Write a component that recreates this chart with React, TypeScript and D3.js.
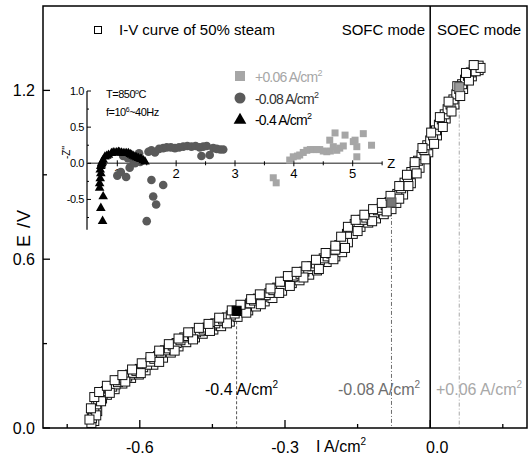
import React from "react";
import * as d3 from "d3";

// ---- main I-V curve (I in A/cm2, E in V) ----
const ivCurve: [number, number][] = [
  [-0.700,0.018],[-0.699,0.035],[-0.697,0.052],[-0.694,0.068],[-0.690,0.084],[-0.686,0.100],[-0.681,0.112],[-0.676,0.122],
  [-0.670,0.131],[-0.664,0.140],[-0.657,0.147],[-0.650,0.155],[-0.645,0.163],[-0.640,0.170],[-0.633,0.176],[-0.626,0.183],
  [-0.620,0.190],[-0.614,0.196],[-0.607,0.203],[-0.600,0.210],[-0.593,0.216],[-0.585,0.225],[-0.578,0.236],[-0.570,0.246],
  [-0.562,0.256],[-0.556,0.268],[-0.548,0.276],[-0.540,0.283],[-0.532,0.293],[-0.524,0.302],[-0.516,0.312],[-0.508,0.322],
  [-0.500,0.327],[-0.492,0.333],[-0.484,0.340],[-0.476,0.344],[-0.468,0.350],[-0.460,0.357],[-0.452,0.364],[-0.444,0.372],
  [-0.436,0.380],[-0.428,0.386],[-0.420,0.393],[-0.412,0.400],[-0.404,0.407],[-0.396,0.416],[-0.388,0.424],[-0.380,0.432],
  [-0.372,0.443],[-0.364,0.453],[-0.356,0.460],[-0.348,0.465],[-0.340,0.472],[-0.332,0.480],[-0.324,0.490],[-0.316,0.499],
  [-0.308,0.510],[-0.300,0.520],[-0.292,0.528],[-0.284,0.536],[-0.276,0.542],[-0.268,0.548],[-0.260,0.556],[-0.252,0.565],
  [-0.244,0.575],[-0.236,0.585],[-0.228,0.595],[-0.220,0.603],[-0.212,0.610],[-0.204,0.620],[-0.196,0.634],[-0.188,0.650],
  [-0.180,0.665],[-0.172,0.690],[-0.164,0.712],[-0.156,0.725],[-0.148,0.732],[-0.140,0.740],[-0.132,0.748],[-0.124,0.756],
  [-0.116,0.765],[-0.108,0.774],[-0.100,0.783],[-0.092,0.792],[-0.084,0.803],[-0.076,0.815],[-0.068,0.832],[-0.060,0.852],
  [-0.053,0.872],[-0.046,0.892],[-0.039,0.910],[-0.032,0.930],[-0.025,0.950],[-0.018,0.970],[-0.012,0.988],[-0.006,1.005],
  [0.000,1.022],[0.006,1.040],[0.012,1.058],[0.018,1.078],[0.024,1.097],[0.030,1.115],[0.036,1.133],[0.042,1.150],
  [0.048,1.168],[0.054,1.186],[0.060,1.205],[0.066,1.222],[0.072,1.238],[0.078,1.252],[0.084,1.264],[0.090,1.274],
  [0.096,1.282],[0.100,1.288],
  [-0.690,0.045],[-0.680,0.095],[-0.662,0.125],[-0.630,0.165],[-0.598,0.195],[-0.560,0.235],[-0.528,0.275],[-0.490,0.315],
  [-0.455,0.345],[-0.420,0.372],[-0.380,0.410],[-0.350,0.440],[-0.312,0.480],[-0.290,0.505],[-0.262,0.535],[-0.230,0.565],
  [-0.200,0.600],[-0.176,0.640],[-0.150,0.700],[-0.120,0.735],[-0.090,0.770],[-0.064,0.815],[-0.045,0.860],[-0.028,0.905],
  [-0.010,0.955],[0.008,1.010],[0.026,1.070],[0.044,1.125],[0.062,1.180],[0.080,1.235],[0.094,1.268],[0.104,1.280],
];
// lower-right edge of the scattered band
const ivLower: [number, number][] = [
  [-0.694,0.025],[-0.688,0.060],[-0.678,0.105],[-0.668,0.118],[-0.652,0.138],[-0.636,0.158],[-0.618,0.178],[-0.602,0.190],
  [-0.588,0.205],[-0.572,0.225],[-0.552,0.250],[-0.536,0.268],[-0.520,0.290],[-0.504,0.305],[-0.486,0.322],[-0.470,0.335],
  [-0.448,0.350],[-0.432,0.362],[-0.414,0.378],[-0.398,0.395],[-0.376,0.418],[-0.360,0.432],[-0.342,0.450],[-0.326,0.462],
  [-0.306,0.488],[-0.286,0.515],[-0.270,0.525],[-0.250,0.545],[-0.234,0.560],[-0.214,0.590],[-0.196,0.610],[-0.182,0.625],
  [-0.170,0.660],[-0.160,0.690],[-0.144,0.715],[-0.128,0.730],[-0.112,0.745],[-0.096,0.760],[-0.080,0.778],[-0.070,0.800],
  [-0.056,0.830],[-0.040,0.870],[-0.022,0.925],[-0.004,0.980],[0.014,1.040],[0.032,1.100],[0.050,1.150],[0.068,1.205],
  [0.086,1.250],[0.100,1.272],
];
// upper-left edge of the scattered band
const ivUpper: [number, number][] = [
  [-0.704,0.030],[-0.701,0.070],[-0.694,0.110],[-0.684,0.128],[-0.668,0.150],[-0.652,0.170],[-0.636,0.188],[-0.616,0.208],
  [-0.596,0.230],[-0.578,0.252],[-0.560,0.275],[-0.540,0.298],[-0.520,0.318],[-0.500,0.340],[-0.478,0.356],[-0.458,0.370],
  [-0.436,0.392],[-0.410,0.418],[-0.392,0.438],[-0.370,0.458],[-0.352,0.475],[-0.330,0.496],[-0.310,0.520],[-0.294,0.540],
  [-0.276,0.555],[-0.256,0.575],[-0.236,0.598],[-0.216,0.622],[-0.196,0.648],[-0.184,0.680],[-0.170,0.715],[-0.154,0.740],
  [-0.136,0.758],[-0.118,0.778],[-0.100,0.800],[-0.082,0.825],[-0.064,0.860],[-0.048,0.900],[-0.032,0.945],[-0.016,0.995],
  [0.002,1.050],[0.020,1.105],[0.038,1.160],[0.056,1.215],[0.074,1.262],[0.090,1.290],
];

// operating points where impedance was measured
const opCurrents = [-0.4, -0.08, 0.06];
const opVoltages = [0.415, 0.8, 1.21];
const opLabels = ["-0.4", "-0.08", "+0.06"];
const opColors = ["#000000", "#6e6e6e", "#a8a8a8"];

const xTicksMajor = [-0.6, -0.3, 0.0];
const xTicksMinor = [-0.75, -0.45, -0.15, 0.15];
const yTicksMajor = [0.0, 0.6, 1.2];
const yTicksMinor = [0.3, 0.9];

// ---- inset impedance spectra (Z', -Z'') ----
const triData: [number, number][] = [
  [0.75,-0.80],[0.72,-0.62],[0.76,-0.46],[0.70,-0.34],[0.70,-0.28],[0.71,-0.21],[0.72,-0.14],[0.71,-0.09],[0.72,-0.04],
  [0.735,0.0],[0.76,0.045],[0.79,0.09],[0.85,0.115],[0.90,0.138],[0.96,0.146],[1.02,0.156],[1.07,0.146],[1.13,0.138],
  [1.19,0.138],[1.245,0.115],[1.30,0.09],[1.36,0.069],[1.41,0.055],[1.47,0.023],[0.73,-0.02],[0.745,0.02],[0.82,0.1],
  [0.93,0.15],[0.99,0.15],[1.04,0.15],[1.10,0.14],[1.16,0.14],[1.22,0.125],[1.27,0.1],[1.33,0.08],[1.39,0.06],[1.44,0.04],
];
const circData: [number, number][] = [
  [1.00,-0.17],[1.06,-0.12],[1.15,-0.19],[1.21,-0.06],[1.27,0.04],[1.30,0.0],[1.33,0.07],[1.37,0.14],[1.39,0.02],
  [1.50,-0.80],[1.58,-0.23],[1.61,-0.46],[1.66,-0.57],[1.78,-0.30],[1.53,0.16],[1.58,0.18],[1.64,0.15],[1.71,0.20],
  [1.78,0.21],[1.84,0.22],[1.91,0.22],[1.98,0.21],[2.05,0.22],[2.12,0.23],[2.19,0.24],[2.26,0.23],[2.33,0.24],[2.40,0.22],
  [2.46,0.23],[2.52,0.24],[2.43,0.10],[2.57,0.115],[2.63,0.21],[2.69,0.20],[2.75,0.19],[2.80,0.19],[1.10,0.10],[1.18,0.07],
];
const sqData: [number, number][] = [
  [3.65,-0.20],[3.70,-0.27],[3.93,0.045],[3.99,0.09],[4.06,0.10],[4.10,0.115],[4.16,0.15],[4.22,0.18],[4.28,0.19],
  [4.33,0.19],[4.39,0.19],[4.44,0.19],[4.50,0.17],[4.56,0.16],[4.61,0.32],[4.62,0.17],[4.67,0.23],[4.70,0.42],[4.73,0.18],
  [4.78,0.21],[4.84,0.24],[4.87,0.39],[5.01,0.30],[5.04,0.32],[5.07,0.23],[5.07,0.09],[5.18,0.41],[5.32,0.25],
];
const insetXTicks = [1, 2, 3, 4, 5];
const insetXMinor = [1.5, 2.5, 3.5, 4.5, 5.5];
const insetYTicks = [1.0, 0.5, 0.0, -0.5];
const insetYMinor = [0.75, 0.25, -0.25, -0.75];
const insetLegend = ["+0.06 A/cm", "-0.08 A/cm", "-0.4 A/cm"];

const FONT = "'Liberation Sans', Arial, Helvetica, sans-serif";

export default function App() {
  const W = 528, H = 459;
  const x = d3.scaleLinear().domain([-0.8, 0.2]).range([43, 527]);
  const y = d3.scaleLinear().domain([0, 1.5]).range([428, 6]);

  const ix = d3.scaleLinear().domain([1, 5]).range([117.3, 352.7]);
  const iy = d3.scaleLinear().domain([0, 1]).range([163.3, 91]);
  const insetLeft = 87;
  const insetRight = ix(5.5);
  const triPath = d3.symbol().type(d3.symbolTriangle).size(40)() as string;
  const triLegend = d3.symbol().type(d3.symbolTriangle).size(70)() as string;
  const allIV = [...ivLower, ...ivCurve, ...ivUpper];

  return (
    <svg width={W} height={H} style={{ position: "absolute", left: 0, top: 0, background: "#fff" }} fontFamily={FONT}>
      <rect x={0} y={0} width={W} height={H} fill="#fff" />
      {/* dashed drop lines */}
      {opCurrents.map((c, i) => (
        <line key={"dl" + i} x1={x(c)} x2={x(c)} y1={y(opVoltages[i])} y2={y(0)}
          stroke={i === 0 ? "#555" : opColors[i]} strokeWidth={1}
          strokeDasharray={i === 0 ? "3,2" : "4,2,1,2"} />
      ))}
      {/* mode divider */}
      <line x1={x(0)} x2={x(0)} y1={y(1.5)} y2={y(0)} stroke="#000" strokeWidth={1.5} />

      {/* main markers */}
      {allIV.map((d, i) => (
        <rect key={"s" + i} x={x(d[0]) - 4.5} y={y(d[1]) - 4.5} width={9} height={9}
          fill="#fff" stroke="#111" strokeWidth={1} />
      ))}
      {opCurrents.map((c, i) => (
        <rect key={"op" + i} x={x(c) - 4.5} y={y(opVoltages[i]) - 5} width={9} height={9}
          fill={i === 0 ? "#000" : i === 1 ? "#777" : "#9a9a9a"} stroke={i === 0 ? "#000" : "#555"} strokeWidth={1} />
      ))}

      {/* frame */}
      <rect x={43} y={6} width={484} height={422} fill="none" stroke="#000" strokeWidth={1.5} />
      {/* x ticks */}
      {xTicksMajor.map((t) => (
        <line key={"xt" + t} x1={x(t)} x2={x(t)} y1={y(0)} y2={y(0) - 8} stroke="#000" strokeWidth={1.3} />
      ))}
      {xTicksMinor.map((t) => (
        <line key={"xm" + t} x1={x(t)} x2={x(t)} y1={y(0)} y2={y(0) - 4} stroke="#000" strokeWidth={1.3} />
      ))}
      {xTicksMajor.map((t) => (
        <text key={"xl" + t} x={x(t) + (t === 0 ? 7 : 0)} y={453} fontSize={16} textAnchor="middle">
          {t.toFixed(1)}
        </text>
      ))}
      {yTicksMajor.map((t) => (
        <line key={"yt" + t} x1={43} x2={50} y1={y(t)} y2={y(t)} stroke="#000" strokeWidth={1.3} />
      ))}
      {yTicksMinor.map((t) => (
        <line key={"ym" + t} x1={43} x2={47} y1={y(t)} y2={y(t)} stroke="#000" strokeWidth={1.3} />
      ))}
      {yTicksMajor.map((t) => (
        <text key={"yl" + t} x={35} y={y(t) + 6} fontSize={16} textAnchor="end">
          {t.toFixed(1)}
        </text>
      ))}

      {/* axis titles */}
      <text x={316} y={452} fontSize={16}>
        I A/cm<tspan dy={-7} fontSize={10}>2</tspan>
      </text>
      <text transform="translate(30,228) rotate(-90)" fontSize={18} textAnchor="middle" letterSpacing={1}>E /V</text>

      {/* main legend and mode labels */}
      <rect x={94.5} y={26.5} width={7} height={7} fill="#fff" stroke="#000" strokeWidth={1} />
      <text x={119} y={35} fontSize={15}>I-V curve of 50% steam</text>
      <text x={425} y={35} fontSize={15} textAnchor="end">SOFC mode</text>
      <text x={437} y={35} fontSize={15}>SOEC mode</text>

      {/* operating-point labels */}
      {opCurrents.map((c, i) => (
        <text key={"ol" + i} x={[205, 338, 436][i]} y={395} fontSize={16} fill={opColors[i] === "#000000" ? "#000" : opColors[i]}>
          {opLabels[i]} A/cm<tspan dy={-7} fontSize={10}>2</tspan>
        </text>
      ))}

      {/* ---- inset ---- */}
      <line x1={insetLeft} x2={insetLeft} y1={iy(1.0)} y2={iy(-0.92)} stroke="#000" strokeWidth={1.2} />
      <line x1={insetLeft} x2={insetRight} y1={iy(0)} y2={iy(0)} stroke="#666" strokeWidth={1.5} />
      {insetXTicks.map((t) => (
        <line key={"ixt" + t} x1={ix(t)} x2={ix(t)} y1={iy(0) - 3} y2={iy(0) + 3} stroke="#000" strokeWidth={1} />
      ))}
      {insetXMinor.map((t) => (
        <line key={"ixm" + t} x1={ix(t)} x2={ix(t)} y1={iy(0) - 2} y2={iy(0) + 2} stroke="#000" strokeWidth={1} />
      ))}
      {insetXTicks.map((t) => (
        <text key={"ixl" + t} x={ix(t)} y={iy(0) + 15} fontSize={13} textAnchor="middle">{t}</text>
      ))}
      <text x={insetRight + 5} y={iy(0) + 5} fontSize={13}>Z</text>
      {insetYTicks.map((t) => (
        <line key={"iyt" + t} x1={insetLeft} x2={insetLeft + 4} y1={iy(t)} y2={iy(t)} stroke="#000" strokeWidth={1} />
      ))}
      {insetYMinor.map((t) => (
        <line key={"iym" + t} x1={insetLeft} x2={insetLeft + 2} y1={iy(t)} y2={iy(t)} stroke="#000" strokeWidth={1} />
      ))}
      {insetYTicks.map((t) => (
        <text key={"iyl" + t} x={insetLeft - 3} y={iy(t) + 4} fontSize={11} textAnchor="end" letterSpacing={-0.4}>
          {t.toFixed(1)}
        </text>
      ))}
      <text transform={`translate(70,${iy(0.15)}) rotate(-90)`} fontSize={10} textAnchor="middle">-Z''</text>
      <text x={106} y={98} fontSize={11} letterSpacing={-0.5}>
        T=850<tspan dy={-4} fontSize={7}>o</tspan><tspan dy={4}>C</tspan>
      </text>
      <text x={106} y={116} fontSize={11} letterSpacing={-0.5}>
        f=10<tspan dy={-4} fontSize={7}>6</tspan><tspan dy={4}>~40Hz</tspan>
      </text>

      {sqData.map((d, i) => (
        <rect key={"isq" + i} x={ix(d[0]) - 3.5} y={iy(d[1]) - 3.5} width={7} height={7} fill="#a6a6a6" />
      ))}
      {circData.map((d, i) => (
        <circle key={"ic" + i} cx={ix(d[0])} cy={iy(d[1])} r={4.3} fill="#5a5a5a" />
      ))}
      {triData.map((d, i) => (
        <path key={"it" + i} d={triPath} transform={`translate(${ix(d[0])},${iy(d[1])})`} fill="#000" />
      ))}

      {/* inset legend */}
      <rect x={235} y={71} width={10} height={10} fill="#a6a6a6" />
      <circle cx={240} cy={98} r={5.5} fill="#5a5a5a" />
      <path d={triLegend} transform="translate(240,120)" fill="#000" />
      {insetLegend.map((s, i) => (
        <text key={"ilg" + i} x={255} y={82 + i * 21.5} fontSize={14} letterSpacing={-0.8}
          fill={i === 0 ? "#a6a6a6" : i === 1 ? "#333" : "#000"}>
          {s}<tspan dy={-6} fontSize={9}>2</tspan>
        </text>
      ))}
    </svg>
  );
}
